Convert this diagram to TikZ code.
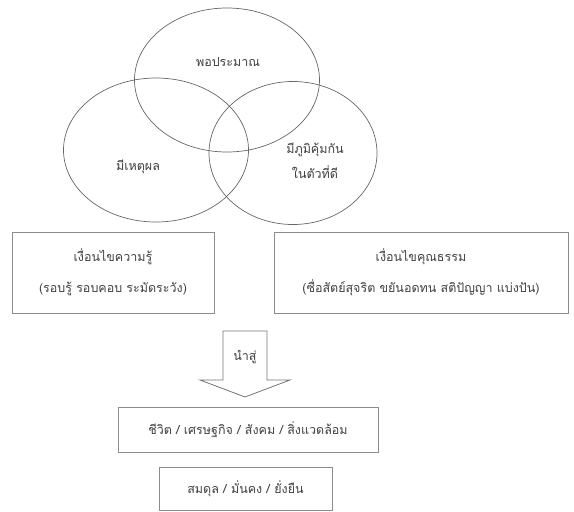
\documentclass[tikz,border=0pt]{standalone}
\usepackage{fontspec}
\newfontfamily\thaifont[Script=Thai]{Loma}
\usetikzlibrary{shapes.geometric,positioning}

\begin{document}
\begin{tikzpicture}[x=1pt, y=-1pt,
    ring/.style = {ellipse, draw=black!60, line width=0.7pt, inner sep=0pt},
    word/.style = {font=\thaifont\fontsize{12.5}{25}\selectfont, text=black!75, align=center},
    panel/.style = {rectangle, draw=black!45, line width=0.9pt, inner sep=0pt,
                    font=\thaifont\fontsize{12.5}{31}\selectfont, text=black!75, align=center}]
    \useasboundingbox (0,0) rectangle (574,512);
    % three circles
    \node [ring, minimum width=185pt, minimum height=144pt] (enough) at (227,80) {};
    \node [ring, minimum width=185pt, minimum height=144pt] (reason) at (156,150) {};
    \node [ring, minimum width=168pt, minimum height=143pt] (immune) at (293,153) {};
    \node [word] (enoughtxt) at (228,62) {พอประมาณ};
    \node [word] (reasontxt) at (138,167) {มีเหตุผล};
    \node [word] (immunetxt) at (315,161) {มีภูมิคุ้มกัน\\ในตัวที่ดี};
    % conditions
    \node [panel, minimum width=202pt, minimum height=81pt] (know) at (113,272.5)
        {เงื่อนไขความรู้\\(รอบรู้ รอบคอบ ระมัดระวัง)};
    \node [panel, minimum width=294pt, minimum height=81pt] (moral) at (421,272.5)
        {เงื่อนไขคุณธรรม\\(ซื่อสัตย์สุจริต ขยันอดทน สติปัญญา แบ่งปัน)};
    % block arrow
    \draw [draw=black!55, line width=0.8pt, line join=miter]
        (223,331) -- (267,331) -- (267,380) -- (290,380) -- (245,397)
        -- (200,380) -- (223,380) -- cycle;
    \node [word] (lead) at (245,357) {นำสู่};
    % results
    \node [panel, minimum width=260pt, minimum height=45pt] (life) at (248,429.5)
        {ชีวิต / เศรษฐกิจ / สังคม / สิ่งแวดล้อม};
    \node [panel, minimum width=173pt, minimum height=43pt] (balance) at (245.5,488.5)
        {สมดุล / มั่นคง / ยั่งยืน};
\end{tikzpicture}
\end{document}
